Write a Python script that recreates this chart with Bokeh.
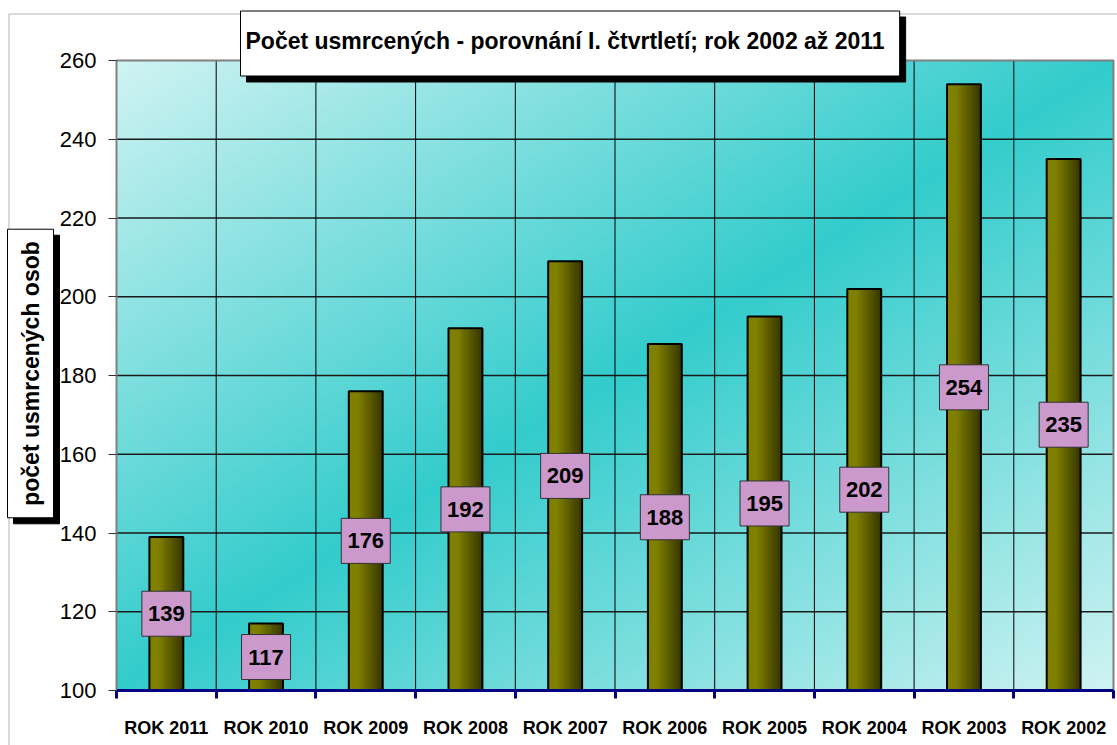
import numpy as np
from bokeh.plotting import figure
from bokeh.models import ColumnDataSource, FixedTicker, Label, BoxAnnotation, Range1d
from bokeh.embed import file_html
from bokeh.resources import INLINE
from bokeh.core.properties import value

categories = ["ROK 2011", "ROK 2010", "ROK 2009", "ROK 2008", "ROK 2007",
              "ROK 2006", "ROK 2005", "ROK 2004", "ROK 2003", "ROK 2002"]
values = [139, 117, 176, 192, 209, 188, 195, 202, 254, 235]
y_ticks = [100, 120, 140, 160, 180, 200, 220, 240, 260]
title_text = "Počet usmrcených - porovnání I. čtvrtletí; rok 2002 až 2011"
y_label_text = "počet usmrcených osob"

N = len(categories)
centers = np.arange(N) + 0.5
vals = np.array(values, dtype=float)
y0, y1 = y_ticks[0], y_ticks[-1]
SANS = "'Liberation Sans', Arial, sans-serif"

# canvas geometry (pixels): plot area from x=116..1113, y=60..690
W_PX, H_PX = 1117, 745
PL, PR, PT, PB = 116, 1113, 60, 690
kx = (PR - PL) / N
ky = (PB - PT) / (y1 - y0)
x_range = Range1d(-PL / kx, N + (W_PX - PR) / kx)
y_range = Range1d(y0 - (H_PX - PB) / ky, y1 + PT / ky)

p = figure(width=W_PX, height=H_PX, x_range=x_range, y_range=y_range,
           output_backend="svg", toolbar_location=None, min_border=0,
           min_border_left=0, min_border_right=0, min_border_top=0, min_border_bottom=0)
p.background_fill_color = "white"
p.border_fill_color = "white"
p.outline_line_color = None
p.xgrid.visible = False
p.ygrid.visible = False

# background gradient of the plot area (diagonal: light -> cyan -> light)
H, W = 160, 400
light = np.array([208, 243, 243], dtype=float)
cyan = np.array([51, 204, 204], dtype=float)
u = np.linspace(0, 1, W)[None, :]
v = 1 - np.linspace(0, 1, H)[:, None]  # row 0 is bottom
t = (u + v) / 2
s = 1 - np.abs(2 * t - 1)
rgb = light[None, None, :] + (cyan - light)[None, None, :] * s[:, :, None]
bg = np.empty((H, W), dtype=np.uint32)
view = bg.view(dtype=np.uint8).reshape((H, W, 4))
for k in range(3):
    view[:, :, k] = rgb[:, :, k].astype(np.uint8)
view[:, :, 3] = 255
p.image_rgba(image=[bg], x=0, y=y0, dw=N, dh=y1 - y0, level="image")

# grid lines (within plot area)
hy = y_ticks[1:-1]
p.segment(x0=[0] * len(hy), x1=[N] * len(hy), y0=hy, y1=hy,
          line_color="#1a1a1a", line_width=1.5)
vx = list(range(1, N))
p.segment(x0=vx, x1=vx, y0=[y0] * len(vx), y1=[y1] * len(vx),
          line_color="black", line_width=1)
# plot area border
p.quad(left=[0], right=[N], bottom=[y0], top=[y1], fill_color=None,
       line_color="#808080", line_width=2)

# bars with horizontal gradient
GW = 64
gx = np.linspace(0, 1, GW)
left_c = np.array([128, 128, 0], dtype=float)
right_c = np.array([52, 52, 0], dtype=float)
gg = np.clip((gx - 0.25) / 0.75, 0, 1)
bar_rgb = left_c[None, :] + (right_c - left_c)[None, :] * gg[:, None]
bar_img = np.empty((1, GW), dtype=np.uint32)
bv = bar_img.view(dtype=np.uint8).reshape((1, GW, 4))
for k in range(3):
    bv[0, :, k] = bar_rgb[:, k].astype(np.uint8)
bv[0, :, 3] = 255
BW = 0.34
src = ColumnDataSource(dict(
    x=centers, left=centers - BW / 2, top=vals, dh=vals - y0,
    mid=(vals + y0) / 2, img=[bar_img] * N,
    lab=[str(v_) for v_ in values]))
p.image_rgba(image="img", x="left", y=y0, dw=BW, dh="dh", source=src)
p.vbar(x="x", top="top", bottom=y0, width=BW, source=src,
       fill_color=None, line_color="black", line_width=2)

# value labels in pink boxes
p.rect(x="x", y="mid", width=49, height=45, width_units="screen", height_units="screen",
       source=src, fill_color="#CC99CC", line_color="#333333", line_width=1)
p.text(x="x", y="mid", text="lab", source=src, text_align="center", text_baseline="middle",
       text_font=value(SANS), text_font_style="bold", text_font_size="22px", text_color="black")

# x axis (fixed inside the canvas)
p.xaxis.fixed_location = y0
p.xaxis.bounds = (0, N)
p.xaxis.ticker = FixedTicker(ticks=list(centers), minor_ticks=list(range(N + 1)))
p.xaxis.major_label_overrides = {float(c): cat for c, cat in zip(centers, categories)}
p.xaxis.axis_line_color = "#000080"
p.xaxis.axis_line_width = 3
p.xaxis.major_tick_line_color = None
p.xaxis.major_tick_out = 8
p.xaxis.major_tick_in = 0
p.xaxis.minor_tick_line_color = "#000080"
p.xaxis.minor_tick_line_width = 3
p.xaxis.minor_tick_out = 8
p.xaxis.minor_tick_in = 0
p.xaxis.major_label_standoff = 19
p.xaxis.major_label_text_font = SANS
p.xaxis.major_label_text_font_style = "bold"
p.xaxis.major_label_text_font_size = "18px"
p.xaxis.major_label_text_color = "black"

# y axis (fixed inside the canvas)
p.yaxis.fixed_location = 0
p.yaxis.bounds = (y0, y1)
p.yaxis.ticker = FixedTicker(ticks=y_ticks)
p.yaxis.axis_line_color = "#808080"
p.yaxis.axis_line_width = 1
p.yaxis.major_tick_line_color = "#333333"
p.yaxis.major_tick_out = 8
p.yaxis.major_tick_in = 0
p.yaxis.minor_tick_line_color = None
p.yaxis.major_label_standoff = 12
p.yaxis.major_label_text_font = SANS
p.yaxis.major_label_text_font_size = "22px"
p.yaxis.major_label_text_color = "black"

# outer chart border (left and top)
p.add_layout(BoxAnnotation(left=8.5, right=5000, top=H_PX - 13.5, bottom=-5000,
                           left_units="screen", right_units="screen",
                           top_units="screen", bottom_units="screen",
                           fill_alpha=0, line_color="black", line_width=1))

# title box with shadow (shadow: black text on black box)
for dx, dy, bgc in [(6, -6, "black"), (0, 0, "white")]:
    p.add_layout(Label(x=240 + dx, y=H_PX - 43 + dy, x_units="screen", y_units="screen",
                       text=title_text, text_align="left", text_baseline="middle",
                       text_font=SANS, text_font_style="bold", text_font_size="23px",
                       text_color="black",
                       background_fill_color=bgc, border_line_color="black",
                       border_line_width=1,
                       padding=dict(left=5, right=15, top=17, bottom=22)))

# y axis title box with shadow
for dx, dy, bgc in [(6, -6, "black"), (0, 0, "white")]:
    p.add_layout(Label(x=30 + dx, y=H_PX - 373 + dy, x_units="screen", y_units="screen",
                       text=y_label_text, text_align="center", text_baseline="middle",
                       angle=np.pi / 2,
                       text_font=SANS, text_font_style="bold", text_font_size="23px",
                       text_color="black",
                       background_fill_color=bgc, border_line_color="black",
                       border_line_width=1,
                       padding=dict(left=12, right=12, top=10, bottom=10)))

open("out.html", "w").write(file_html(p, INLINE))
